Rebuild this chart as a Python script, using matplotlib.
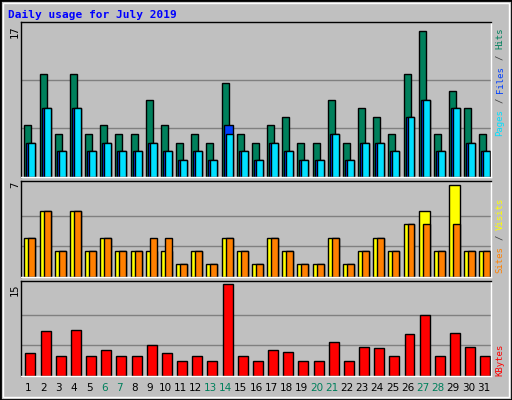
import matplotlib
matplotlib.use("Agg")
import matplotlib.pyplot as plt
from matplotlib.patches import Rectangle
import numpy as np

days = list(range(1, 32))
hits = [6, 12, 5, 12, 5, 6, 5, 5, 9, 6, 4, 5, 4, 11, 5, 4,
        6, 7, 4, 4, 9, 4, 8, 7, 5, 12, 17, 5, 10, 8, 5]
files = [4, 8, 3, 8, 3, 4, 3, 3, 4, 3, 2, 3, 2, 6, 3, 2,
         4, 3, 2, 2, 5, 2, 4, 4, 3, 7, 9, 3, 8, 4, 3]
pages = [4, 8, 3, 8, 3, 4, 3, 3, 4, 3, 2, 3, 2, 5, 3, 2,
         4, 3, 2, 2, 5, 2, 4, 4, 3, 7, 9, 3, 8, 4, 3]
visits = [3, 5, 2, 5, 2, 3, 2, 2, 2, 2, 1, 2, 1, 3, 2, 1,
          3, 2, 1, 1, 3, 1, 2, 3, 2, 4, 5, 2, 7, 2, 2]
sites = [3, 5, 2, 5, 2, 3, 2, 2, 3, 3, 1, 2, 1, 3, 2, 1,
         3, 2, 1, 1, 3, 1, 2, 3, 2, 4, 4, 2, 4, 2, 2]
kbytes = [3.8, 7.4, 3.2, 7.6, 3.2, 4.2, 3.2, 3.2, 5.1, 3.8, 2.5, 3.3, 2.5, 15.0, 3.2, 2.5,
          4.2, 4.0, 2.5, 2.5, 5.5, 2.5, 4.8, 4.5, 3.2, 6.9, 10.0, 3.2, 7.1, 4.8, 3.2]
weekend = [6, 7, 13, 14, 20, 21, 27, 28]

W, H = 512, 400
BG = "#C0C0C0"
GREEN = "#00805C"
BLUE = "#0040FF"
CYAN = "#00E0FF"
YELLOW = "#FFFF00"
ORANGE = "#FF8000"
RED = "#FF0000"

fig = plt.figure(figsize=(W / 100, H / 100), dpi=100, facecolor=BG)

# outer 3D frame
fig.add_artist(Rectangle((0, 0), 1, 1, transform=fig.transFigure, fill=False, ec="black", lw=2))
fig.add_artist(Rectangle((3 / W, 3 / H), 1 - 6 / W, 1 - 6 / H, transform=fig.transFigure,
                         fill=False, ec="white", lw=1))


def px_axes(x0, y0, x1, y1):
    return fig.add_axes([x0 / W, 1 - y1 / H, (x1 - x0) / W, (y1 - y0) / H])


def slot(off0, off1):
    # offsets in pixels within a 15px day slot
    return -0.5 + off0 / 15.2, (off1 - off0) / 15.2


def setup(ax, top, grid):
    ax.set_facecolor(BG)
    ax.set_xlim(0.5, 31.5)
    ax.set_ylim(0, top)
    ax.set_xticks([])
    ax.set_yticks([])
    for g in grid:
        ax.axhline(g, color="#808080", lw=1, zorder=0)
    for s in ax.spines.values():
        s.set_color("black")
        s.set_linewidth(1)
    ax.spines["bottom"].set_color("white")
    ax.spines["right"].set_color("white")


x = np.array(days)

ax1 = px_axes(21, 22, 491, 177)
setup(ax1, 17 * 155 / 146, [17 / 3, 34 / 3])
for vals, o0, o1, c in [(hits, 3.5, 10.5, GREEN), (files, 5.5, 14.5, BLUE), (pages, 7.5, 14.5, CYAN)]:
    a, w = slot(o0, o1)
    ax1.bar(x + a, vals, width=w, align="edge", color=c, edgecolor="black", lw=1, zorder=2)

ax2 = px_axes(21, 181, 491, 277)
setup(ax2, 7 * 96 / 92, [7 / 3, 14 / 3])
for vals, o0, o1, c in [(visits, 3.5, 14.5, YELLOW), (sites, 7.5, 14.5, ORANGE)]:
    a, w = slot(o0, o1)
    ax2.bar(x + a, vals, width=w, align="edge", color=c, edgecolor="black", lw=1, zorder=2)

ax3 = px_axes(21, 281, 491, 376)
setup(ax3, 15 * 95 / 91.7, [5, 10])
a, w = slot(4.5, 14.5)
ax3.bar(x + a, kbytes, width=w, align="edge", color=RED, edgecolor="black", lw=1, zorder=2)

# day labels
for d in days:
    ax3.text(d, -0.13, str(d), transform=ax3.get_xaxis_transform(), ha="center", va="center",
             fontsize=7.5, color=GREEN if d in weekend else "black")

# title
fig.text(8 / W, 1 - 15 / H, "Daily usage for July 2019", color="#0000FF", fontsize=8,
         family="DejaVu Sans Mono", fontweight="bold", va="center")

# left max labels
for lbl, ytop in [("17", 26), ("7", 182), ("15", 283)]:
    fig.text(15 / W, 1 - ytop / H, lbl, rotation=90, fontsize=7.5, ha="center", va="top",
             family="DejaVu Sans Mono")


def vlabel(x_px, y_bottom, pieces, fs=6.5):
    ch = 0.602 * fs * 100 / 72
    pos = 0
    for txt, col in pieces:
        n = len(txt)
        stripped = txt.strip()
        lead = len(txt) - len(txt.lstrip())
        fig.text(x_px / W, 1 - (y_bottom - (pos + lead) * ch) / H, stripped, rotation=90, color=col,
                 fontsize=fs, ha="center", va="bottom", family="DejaVu Sans Mono")
        pos += n


vlabel(500, 136, [("Pages", CYAN), (" / ", "#404040"), ("Files", BLUE), (" / ", "#404040"), ("Hits", GREEN)])
vlabel(500, 273, [("Sites", ORANGE), (" / ", "#404040"), ("Visits", YELLOW)])
vlabel(500, 376, [("KBytes", RED)])

fig.savefig("out.png", dpi=100, facecolor=BG)
